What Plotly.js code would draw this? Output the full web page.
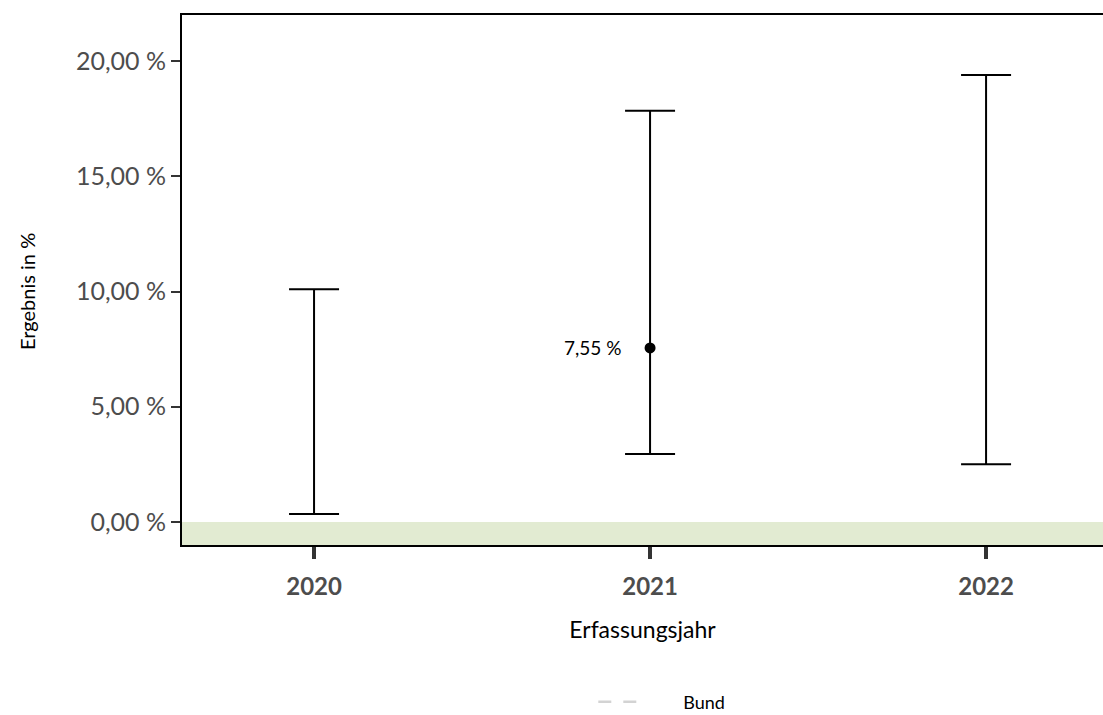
<!DOCTYPE html>
<html>
<head>
<meta charset="utf-8">
<script src="https://cdn.plot.ly/plotly-3.0.1.min.js"></script>
<style>html,body{margin:0;padding:0;background:#fff;}#chart{width:1103px;height:715px;}</style>
</head>
<body>
<div id="chart"></div>
<script>
// Data
const years = [2020, 2021, 2022];
const yearLabels = ["2020", "2021", "2022"];
const ciLower = [0.35, 2.95, 2.5];
const ciUpper = [10.1, 17.85, 19.4];
const resultYears = [2021];
const resultValues = [7.55];
const resultLabels = ["7,55 %"];
const yTickVals = [0, 5, 10, 15, 20];
const yTickLabels = ["0,00 %", "5,00 %", "10,00 %", "15,00 %", "20,00 %"];
const legendName = "Bund";
const xTitle = "Erfassungsjahr";
const yTitle = "Ergebnis in %";

const FONT = "Lato, 'Open Sans', sans-serif";

const ciTrace = {
  x: years,
  y: ciLower,
  type: "scatter",
  mode: "markers",
  marker: {size: 1, opacity: 0},
  showlegend: false,
  hoverinfo: "skip",
  error_y: {
    type: "data",
    symmetric: false,
    array: ciUpper.map((u, i) => u - ciLower[i]),
    arrayminus: ciLower.map(() => 0),
    color: "#000000",
    thickness: 2,
    width: 25
  }
};

const pointTrace = {
  x: resultYears,
  y: resultValues,
  type: "scatter",
  mode: "markers",
  marker: {size: 11, color: "#000000"},
  showlegend: false,
  hoverinfo: "skip"
};

const bundTrace = {
  x: [null],
  y: [null],
  type: "scatter",
  mode: "lines",
  name: legendName,
  line: {color: "#d3d3d3", width: 2.5, dash: "13px,12px,13px,300px"},
  showlegend: true
};

const labelAnnotations = resultYears.map((yr, i) => ({
  x: yr,
  y: resultValues[i],
  xref: "x",
  yref: "y",
  text: resultLabels[i],
  showarrow: false,
  xanchor: "right",
  yanchor: "middle",
  xshift: -27,
  font: {family: FONT, size: 19, color: "#000000"}
}));

const layout = {
  width: 1103,
  height: 715,
  margin: {l: 182, r: 0, t: 15, b: 170},
  paper_bgcolor: "#ffffff",
  plot_bgcolor: "#ffffff",
  font: {family: FONT},
  xaxis: {
    range: [2019.607, 2022.348],
    tickmode: "array",
    tickvals: years,
    ticktext: yearLabels,
    tickfont: {family: FONT, size: 24, color: "#4d4d4d", weight: "bold"},
    ticks: "outside",
    ticklen: 12,
    tickwidth: 4,
    tickcolor: "#333333",
    ticklabelstandoff: 7,
    showline: true,
    linecolor: "#000000",
    linewidth: 2,
    mirror: true,
    showgrid: false,
    zeroline: false,
    automargin: false,
    title: {text: xTitle, font: {family: FONT, size: 23, color: "#000000"}, standoff: 23}
  },
  yaxis: {
    range: [-1, 22],
    tickmode: "array",
    tickvals: yTickVals,
    ticktext: yTickLabels,
    tickfont: {family: FONT, size: 25, color: "#4d4d4d"},
    ticks: "outside",
    ticklen: 9,
    tickwidth: 2,
    tickcolor: "#333333",
    showline: true,
    linecolor: "#000000",
    linewidth: 2,
    showgrid: false,
    zeroline: false,
    automargin: false
  },
  annotations: labelAnnotations.concat([{
    xref: "paper",
    yref: "paper",
    x: 0,
    y: (545 - 292) / 530,
    xshift: -155,
    text: yTitle,
    textangle: -90,
    showarrow: false,
    xanchor: "center",
    yanchor: "middle",
    font: {family: FONT, size: 20, color: "#000000"}
  }]),
  shapes: [{
    type: "rect",
    xref: "paper",
    yref: "y",
    x0: 0, x1: 1,
    y0: -1, y1: 0,
    fillcolor: "#e2ebd2",
    line: {width: 0},
    layer: "below"
  }],
  legend: {
    orientation: "h",
    x: 0.6,
    xref: "container",
    xanchor: "center",
    y: 13 / 715,
    yref: "container",
    yanchor: "middle",
    itemwidth: 80,
    font: {family: FONT, size: 18, color: "#000000"}
  }
};

Plotly.newPlot("chart", [bundTrace, ciTrace, pointTrace], layout, {displayModeBar: false, staticPlot: true});
</script>
</body>
</html>
